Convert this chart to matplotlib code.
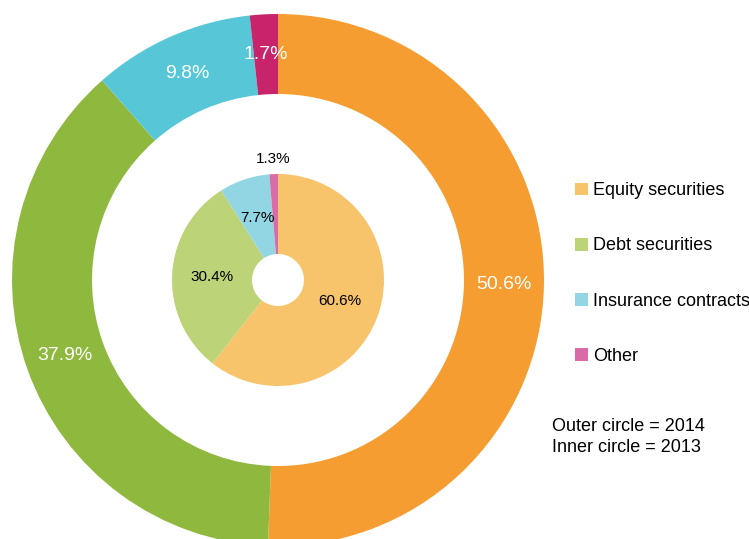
import numpy as np
import matplotlib
matplotlib.use('Agg')
import matplotlib.pyplot as plt

plt.rcParams['font.family'] = ['Liberation Sans Narrow', 'Liberation Sans', 'DejaVu Sans']

categories = ['Equity securities', 'Debt securities', 'Insurance contracts', 'Other']
outer_2014 = [50.6, 37.9, 9.8, 1.7]
inner_2013 = [60.6, 30.4, 7.7, 1.3]
outer_colors = ['#F59D31', '#8FB93E', '#57C7D8', '#C8246C']
inner_colors = ['#F7C36B', '#BCD377', '#92D5E3', '#D96BA6']

fig = plt.figure(figsize=(7.49, 5.39), dpi=100)
ax = fig.add_axes([0, 0, 1, 1])

cx, cy = 278, 539 - 280

# outer ring = 2014
w_out, t_out, a_out = ax.pie(outer_2014, colors=outer_colors, radius=266, center=(cx, cy),
                             startangle=90, counterclock=False,
                             autopct='%.1f%%', pctdistance=0.85,
                             wedgeprops=dict(width=80, linewidth=0),
                             textprops=dict(color='white', fontsize=14), frame=True)

# inner ring = 2013
w_in, t_in, a_in = ax.pie(inner_2013, colors=inner_colors, radius=106, center=(cx, cy),
                          startangle=90, counterclock=False,
                          autopct='%.1f%%', pctdistance=0.62,
                          wedgeprops=dict(width=80, linewidth=0),
                          textprops=dict(color='black', fontsize=11), frame=True)

# small slice label sits just outside the inner pie
w = w_in[3]
mid = np.deg2rad((w.theta1 + w.theta2) / 2)
a_in[3].set_position((cx + 121 * np.cos(mid), cy + 121 * np.sin(mid)))

ax.set_xlim(0, 749)
ax.set_ylim(0, 539)
ax.set_aspect('equal')
ax.axis('off')

leg = ax.legend(w_in, categories, loc='upper left', bbox_to_anchor=(568 / 749, 1 - 175 / 539),
                frameon=False, fontsize=13, handlelength=0.7, handleheight=0.7,
                handletextpad=0.3, labelspacing=2.12, borderaxespad=0)

ax.text(552, 539 - 437, 'Outer circle = 2014\nInner circle = 2013', fontsize=13,
        va='center', ha='left', linespacing=1.3)

fig.savefig('out.png', dpi=100)
